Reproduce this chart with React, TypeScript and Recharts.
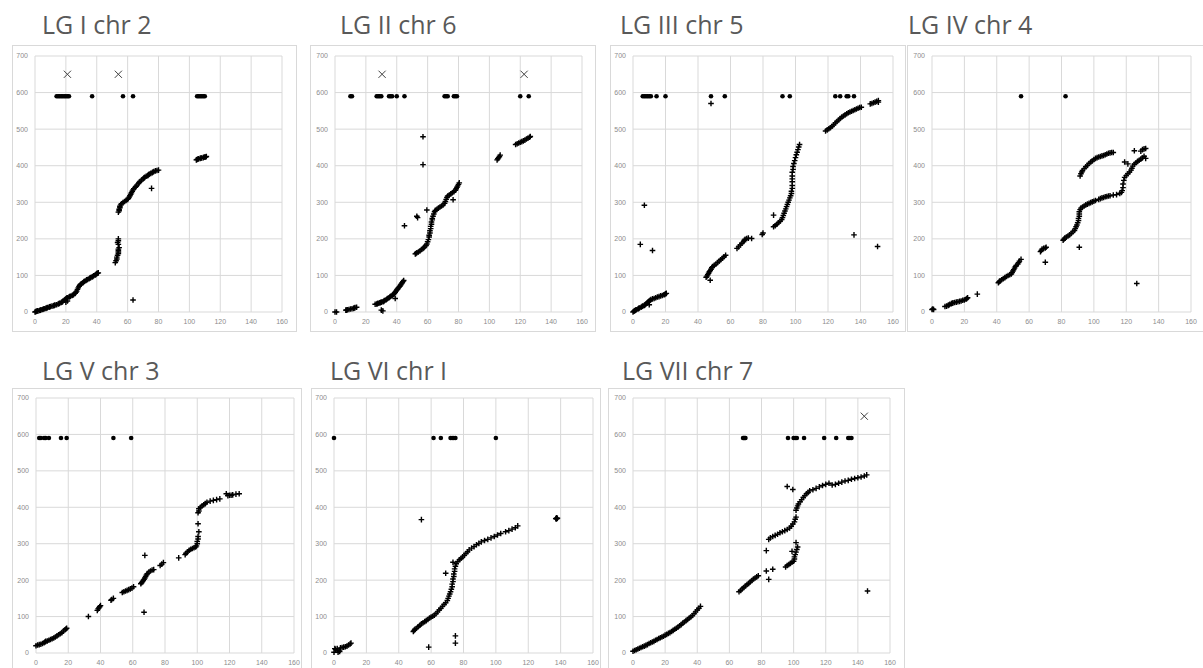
import React from "react";
import { ScatterChart, Scatter, XAxis, YAxis, CartesianGrid } from "recharts";

type P = [number, number];

// ---------- LG I chr 2 ----------
const lg1Plus: P[] = [
  [0,0],[0.5,1],[1,2],[1.5,3],[2,3],[3,4],[3.5,5],[4,6],[5,7],[5.5,8],[6,9],[7,10],[7.5,11],[8,12],[9,13],[9.5,14],[10,15],[11,16],[12,17],[12.5,18],[13,19],[14,20],[15,22],[15.5,23],[16,24],[17,26],[17.5,27],[18,29],[19,32],[19.5,34],[20,36],[20.5,38],[21,39],[21,30],[20,27],[22,41],[22.5,42],[23,43],[24,45],[24.5,46],[25,48],[26,51],[26.5,54],[27,57],[27.5,62],[28,66],[28.5,70],[29,73],[29.5,75],[30,77],[31,80],[31.5,82],[32,84],[33,86],[33.5,88],[34,89],[35,91],[35.5,93],[36,94],[37,96],[37.5,97],[38,99],[39,101],[39.5,103],[40,105],[40.5,106],[41,107],
  [52,135],[52.5,140],[53,145],[53,150],[53.5,155],[54,160],[54,164],[54,168],[54,172],[54.5,176],[54,185],[53.5,190],[54,195],[54,200],
  [54,273],[54.5,277],[54.5,281],[55,285],[55,289],[55.5,293],[56,296],[57,299],[58,302],[59,305],[60,308],[60.5,311],[61,314],[61.5,318],[62,322],[62.5,326],[63,330],[63.5,334],[64,337],[65,341],[65.5,344],[66,347],[67,351],[67.5,354],[68,357],[69,361],[70,364],[70.5,366],[71,368],[72,371],[73,373],[73.5,375],[74,377],[75,379],[76,381],[76.5,383],[77,384],[78,386],[79,387],[80,388],
  [75.5,338],[63.5,33],
  [104.5,416],[105,417],[105.5,418],[106,419],[107,420],[107.5,421],[108,421],[109,422],[109.5,423],[110,424],[110.5,424],[111,425],
];
const lg1Dots: P[] = [[14,590],[15,590],[16,590],[17,590],[18,590],[19,590],[20,590],[21,590],[22,590],[37,590],[57,590],[63.5,590],[105,590],[106,590],[107,590],[108,590],[109,590],[110,590]];
const lg1Cross: P[] = [[21,650],[54,650]];

// ---------- LG II chr 6 ----------
const lg2Plus: P[] = [
  [0,0],[1,0],[7,5],[7.5,5],[8,6],[9,7],[10,8],[11,9],[12,10],[12.5,11],[13,12],[14,13],
  [26,21],[27,22],[27.5,23],[28,24],[29,25],[29.5,26],[30,27],[31,28],[31.5,29],[32,31],[33,33],[33.5,35],[34,37],[35,39],[35.5,41],[36,43],[37,45],[37.5,47],[38,49],[38.5,51],[39,54],[39.5,57],[40,60],[40.5,63],[41,66],[41.5,68],[42,70],[42.5,74],[43,77],[43.5,80],[44,83],[44.5,86],
  [30,5],[31,3],[39,37],[45,236],
  [52,159],[52.5,160],[53,162],[54,164],[55,167],[56,171],[57,174],[57.5,176],[58,178],[59,182],[59.5,186],[60,192],[60.5,198],[61,205],[61,210],[61.5,216],[61.5,222],[62,228],[62,234],[62.5,240],[62.5,246],[63,252],[63,256],[63.5,262],[64,268],[64.5,274],[65,278],[66,281],[67,284],[68,287],[69,290],[70,293],[71,297],[71.5,302],[72,308],[72.5,313],[73,317],[74,320],[75,323],[76,326],[77,329],[78,333],[78.5,337],[79,341],[79.5,345],[80,349],[80.5,353],
  [53,262],[53.5,258],[59.5,279],[57,479],[57,403],[76.5,307],
  [105,416],[105.5,419],[106,422],[106.5,425],[107,429],
  [117,458],[118,460],[119,462],[120,464],[121,466],[122,468],[123,470],[124,473],[125,475],[126,478],[126.5,480],
];
const lg2Dots: P[] = [[10,590],[11,590],[27,590],[28,590],[29,590],[30,590],[35,590],[36,590],[37,590],[40,590],[45,590],[71,590],[72,590],[73,590],[77,590],[78,590],[79,590],[120,590],[125.5,590]];
const lg2Cross: P[] = [[30.5,650],[122.5,650]];

// ---------- LG III chr 5 ----------
const lg3Plus: P[] = [
  [0,0],[0.5,2],[1,3],[1.5,5],[2,6],[3,8],[3.5,10],[4,11],[5,13],[5.5,15],[6,16],[7,18],[7.5,20],[8,22],[8.5,24],[9,26],[9.5,28],[10,30],[10.5,32],[11,34],[12,36],[13,37],[14,39],[15,41],[16,42],[17,44],[18,45],[19,47],[19.5,48],[20,50],[20.5,51],
  [10,20],[4.5,185],[7,292],[12,168],
  [45,95],[45.5,98],[46,102],[46.5,106],[47,110],[47.5,113],[48,117],[48.5,121],[49,124],[50,128],[51,131],[52,135],[53,139],[54,143],[55,147],[56,151],[57,155],
  [47.5,87],[48,570],
  [64,174],[65,178],[66,183],[67,188],[68,192],[68.5,196],[69,199],[70,201],[71,202],[73,201],[79.5,212],[80,216],
  [86.5,233],[87.5,236],[88.5,240],[89.5,244],[90.5,248],[91.5,253],[92,258],[92.5,264],[93,270],[93.5,276],[94,282],[94.5,288],[95,294],[95.5,300],[96,306],[96.5,312],[97,318],[97.5,324],[97.5,330],[98,338],[98,346],[98,356],[98,364],[98,372],[98,382],[98.5,390],[98.5,398],[99,406],[99.5,414],[100,422],[100.5,430],[101,437],[101.5,444],[102,451],[102.5,458],
  [86.5,265],
  [118.5,495],[119.5,498],[120.5,501],[121.5,504],[122.5,508],[123.5,512],[124.5,517],[125.5,521],[126.5,525],[127.5,529],[128.5,533],[129.5,536],[130.5,539],[131.5,542],[132.5,545],[133.5,547],[134.5,549],[135.5,551],[136.5,553],[137.5,555],[138.5,557],[139.5,559],[140.5,560],
  [146,569],[147,570],[148,572],[149,574],[150,576],[151,578],[151,574],
  [136,211],[150.5,179],
];
const lg3Dots: P[] = [[6,590],[7,590],[8,590],[9,590],[10,590],[11,590],[14.5,590],[20,590],[48,590],[56.5,590],[92,590],[96.5,590],[124.5,590],[127.5,590],[131.5,590],[132.5,590],[136,590]];
const lg3Cross: P[] = [];

// ---------- LG IV chr 4 ----------
const lg4Plus: P[] = [
  [0,7],[0.5,8],[1,7],
  [8,15],[9,16],[10,18],[10.5,19],[11,21],[12,23],[12.5,24],[13,25],[14,26],[15,27],[16,28],[17,29],[18,30],[19,32],[20,33],[21,35],[21.5,37],[22,39],[28,49],
  [41,80],[41.5,83],[42,85],[43,88],[44,91],[45,94],[46,97],[47,100],[48,102],[49,104],[49.5,108],[50,112],[50.5,116],[51,120],[51.5,124],[52,127],[53,131],[53.5,135],[54,139],[55,144],
  [67,165],[67.5,168],[68,172],[69,174],[70,175],[70.5,177],[70,136],
  [81,196],[81.5,199],[82,202],[83,205],[84,208],[85,211],[86,215],[87,219],[88,223],[88.5,228],[89,233],[89.5,238],[90,244],[90.5,250],[90.5,256],[91,262],[91,268],[91,274],[91.5,280],[92,284],[93,287],[94,290],[95,293],[96,295],[97,297],[98,299],[99,301],[100,303],[101,305],[103,308],[104,310],[105,312],[106,313],[107,315],[108,316],[109,317],[110,318],[112,320],[114,321],[116,324],[117,327],[117.5,332],[118,340],[118,350],[118.5,360],[119,368],[120,373],[121,378],[122,383],[123,388],[123.5,393],[124,399],[125,404],[126,408],[127,412],[128,415],[129,418],[130,421],[131,426],[129,440],[130,444],[131,446],[132,447],
  [91.5,372],[92,378],[92.5,383],[93,387],[94,392],[95,397],[96,401],[97,406],[98,410],[99,413],[100,417],[101,420],[102,422],[103,424],[104,425],[105,427],[106,428],[107,430],[108,432],[109,434],[110,435],[111,436],[112,436],
  [91,177],[126.5,78],[125,441],[132,420],[119,410],[121,405],
];
const lg4Dots: P[] = [[55,590],[82.5,590]];
const lg4Cross: P[] = [];

// ---------- LG V chr 3 ----------
const lg5Plus: P[] = [
  [0,20],[1,22],[2,23],[3,24],[4,26],[5,28],[5.5,30],[6,32],[7,33],[8,35],[9,37],[10,39],[11,41],[12,44],[13,47],[14,50],[15,53],[16,56],[17,60],[18,64],[18.5,66],[19,68],
  [32.5,100],[38,117],[38.5,121],[39,124],[39.5,127],[40,130],
  [46.5,145],[47,147],[48,150],
  [53.5,166],[54.5,168],[55.5,170],[56.5,172],[57.5,174],[58.5,176],[59.5,178],[60.5,182],
  [65,190],[65.5,193],[66,196],[66.5,199],[67,202],[67.5,206],[68,210],[68.5,214],[69,218],[70,222],[71,225],[72,228],[73,229],
  [67.5,268],[67,112],
  [77,240],[78,244],[79,248],[88.5,261],
  [92.5,270],[93,274],[94,278],[95,282],[96,285],[97,287],[98,289],[99,291],[99.5,294],[100,300],[100,306],[100.5,313],[100.5,320],[101,333],[100.5,355],
  [100.5,385],[101,390],[101,396],[102,400],[103,404],[104,407],[105,410],[106,414],[108,417],[110,419],[112,421],[114,423],[118,437],[119,432],[120,433],[121,433],[122,434],[124,436],[126,437],
];
const lg5Dots: P[] = [[2,590],[3,590],[5,590],[6,590],[8,590],[15.5,590],[19,590],[48,590],[59,590]];
const lg5Cross: P[] = [];

// ---------- LG VI chr I ----------
const lg6Plus: P[] = [
  [0,2],[0.5,12],[1,10],[2,12],[2.5,2],[3,6],[3.5,4],[4,14],[5,15],[6,16],[7,17],[8,19],[9,22],[10,25],[10.5,27],
  [49,59],[49.5,62],[50,65],[51,68],[52,72],[53,76],[54,80],[55,83],[56,86],[57,89],[58,92],[59,96],[60,99],[61,101],[62,104],[63,108],[64,113],[65,118],[66,123],[67,128],[68,133],[69,138],[70,144],[70.5,150],[71,156],[71.5,162],[72,168],[72.5,175],[73,182],[73,189],[73.5,196],[73.5,203],[74,210],[74,217],[74.5,224],[74.5,231],[75,238],[75.5,245],[76.5,251],[77.5,256],[78.5,260],[79.5,264],[80.5,268],[81.5,273],[82.5,278],[83.5,283],[85,288],[86.5,292],[88,297],[89.5,301],[91,305],[93,309],[95,312],[97,316],[99,320],[101,324],[103,328],[106,333],[108,336],[110,340],[112,344],[113.5,349],
  [54,366],[69,219],[73.5,249],[58.5,16],[75,47],[75,27],
  [137,369],[137.5,371],[138,370],[137.5,368],
];
const lg6Dots: P[] = [[0,590],[61.5,590],[66,590],[72,590],[73,590],[74,590],[75,590],[100,590]];
const lg6Cross: P[] = [];

// ---------- LG VII chr 7 ----------
const lg7Plus: P[] = [
  [0,5],[1,7],[2,9],[3,11],[4,13],[5,15],[6,17],[7,19],[8,21],[9,23],[10,26],[11,28],[12,30],[13,32],[14,35],[15,37],[16,40],[17,42],[18,44],[19,46],[20,49],[21,51],[22,54],[23,56],[24,59],[25,62],[26,65],[27,68],[28,71],[29,75],[30,78],[31,82],[32,85],[33,89],[34,92],[35,96],[36,99],[37,103],[38,108],[39,113],[40,118],[41,123],[42,128],
  [66,168],[67,172],[68,176],[69,180],[70,184],[71,188],[72,191],[73,195],[74,199],[75,203],[76,206],[77,209],[78,212],
  [84.5,312],[85.5,316],[87,320],[88.5,323],[90,326],[91.5,330],[93,333],[94.5,336],[96,339],[97.5,343],[98.5,348],[99.5,354],[100.5,360],[101,367],[101.5,373],
  [101.5,392],[102,398],[102.5,404],[103,409],[104,415],[105,421],[106,427],[107,432],[108,437],[109,441],[110,445],[112,448],[114,452],[116,456],[118,460],[120,463],[122,466],[124,461],[126,463],[128,466],[130,469],[132,472],[134,474],[136,477],[138,479],[140,481],[142,483],[144,486],[145.5,489],
  [95,236],[96,240],[97,243],[98,246],[99,249],[100,252],[100.5,258],[100.5,264],[101,270],[101.5,277],[102,284],[102.5,291],[101.5,303],
  [83,281],[83,225],[87,230],[84.5,202],[96,457],[99.5,449],[99,279],[146,170],
];
const lg7Dots: P[] = [[68.5,590],[69,590],[69.5,590],[70,590],[96.5,590],[100,590],[101,590],[102,590],[106.5,590],[119,590],[126.5,590],[134,590],[135,590],[136,590]];
const lg7Cross: P[] = [[144,650]];

const xTicks = [0, 20, 40, 60, 80, 100, 120, 140, 160];
const yTicks = [0, 100, 200, 300, 400, 500, 600, 700];

const toObj = (a: P[]) => a.map(([x, y]) => ({ x, y }));

const PlusShape = (p: any) => {
  const { cx, cy } = p;
  if (cx == null || cy == null) return <g />;
  const s = 2.8;
  return <path d={`M${cx - s},${cy}H${cx + s}M${cx},${cy - s}V${cy + s}`} stroke="#000" strokeWidth={1.4} fill="none" />;
};
const DotShape = (p: any) => {
  const { cx, cy } = p;
  if (cx == null || cy == null) return <g />;
  return <circle cx={cx} cy={cy} r={2.3} fill="#000" />;
};
const CrossShape = (p: any) => {
  const { cx, cy } = p;
  if (cx == null || cy == null) return <g />;
  const s = 3.6;
  return <path d={`M${cx - s},${cy - s}L${cx + s},${cy + s}M${cx - s},${cy + s}L${cx + s},${cy - s}`} stroke="#404040" strokeWidth={1} fill="none" />;
};

type Panel = {
  title: string; tx: number; ty: number;
  fx: number; fy: number; fw: number; fh: number;
  x0: number; x1: number; yT: number; yB: number;
  plus: P[]; dots: P[]; cross: P[];
};

const panels: Panel[] = [
  { title: "LG I chr 2", tx: 42, ty: 12, fx: 12, fy: 45, fw: 285, fh: 287, x0: 35, x1: 282, yT: 56, yB: 312, plus: lg1Plus, dots: lg1Dots, cross: lg1Cross },
  { title: "LG II chr 6", tx: 340, ty: 12, fx: 310, fy: 45, fw: 286, fh: 287, x0: 335, x1: 582, yT: 56, yB: 312, plus: lg2Plus, dots: lg2Dots, cross: lg2Cross },
  { title: "LG III chr 5", tx: 620, ty: 12, fx: 610, fy: 45, fw: 296, fh: 287, x0: 633, x1: 893, yT: 56, yB: 312, plus: lg3Plus, dots: lg3Dots, cross: lg3Cross },
  { title: "LG IV chr 4", tx: 908, ty: 12, fx: 907, fy: 45, fw: 310, fh: 287, x0: 932, x1: 1191, yT: 56, yB: 312, plus: lg4Plus, dots: lg4Dots, cross: lg4Cross },
  { title: "LG V chr 3", tx: 42, ty: 358, fx: 12, fy: 388, fw: 290, fh: 300, x0: 36, x1: 294, yT: 398, yB: 653, plus: lg5Plus, dots: lg5Dots, cross: lg5Cross },
  { title: "LG VI chr I", tx: 330, ty: 358, fx: 311, fy: 388, fw: 290, fh: 300, x0: 334, x1: 593, yT: 398, yB: 653, plus: lg6Plus, dots: lg6Dots, cross: lg6Cross },
  { title: "LG VII chr 7", tx: 622, ty: 358, fx: 608, fy: 388, fw: 297, fh: 300, x0: 633, x1: 890, yT: 398, yB: 653, plus: lg7Plus, dots: lg7Dots, cross: lg7Cross },
];

const YW = 30, MT = 8, MR = 12, XH = 22;
const tickStyle = { fontSize: 7, fill: "#8c8c8c", fontFamily: "Liberation Sans, Arial, sans-serif" };

function PanelChart({ p }: { p: Panel }) {
  const w = YW + (p.x1 - p.x0) + MR;
  const h = MT + (p.yB - p.yT) + XH;
  return (
    <>
      <div style={{ position: "absolute", left: p.fx, top: p.fy, width: p.fw, height: p.fh, border: "1px solid #d9d9d9", boxSizing: "border-box" }} />
      <div style={{ position: "absolute", left: p.tx, top: p.ty, fontFamily: "'Open Sans', sans-serif", fontSize: 25, lineHeight: "25px", color: "#595959", whiteSpace: "nowrap" }}>{p.title}</div>
      <div style={{ position: "absolute", left: p.x0 - YW, top: p.yT - MT }}>
        <ScatterChart width={w} height={h} margin={{ top: MT, right: MR, bottom: 0, left: 0 }}>
          <CartesianGrid stroke="#d9d9d9" strokeWidth={1} />
          <XAxis type="number" dataKey="x" domain={[0, 160]} ticks={xTicks} interval={0} axisLine={false} tickLine={false} tickSize={5} tickMargin={2} height={XH} tick={tickStyle} />
          <YAxis type="number" dataKey="y" domain={[0, 700]} ticks={yTicks} interval={0} axisLine={false} tickLine={false} tickSize={5} tickMargin={2} width={YW} tick={tickStyle} />
          <Scatter data={toObj(p.plus)} shape={PlusShape} isAnimationActive={false} />
          <Scatter data={toObj(p.dots)} shape={DotShape} isAnimationActive={false} />
          <Scatter data={toObj(p.cross)} shape={CrossShape} isAnimationActive={false} />
        </ScatterChart>
      </div>
    </>
  );
}

export default function App() {
  return (
    <div style={{ position: "absolute", left: 0, top: 0, width: 1203, height: 668, overflow: "hidden", background: "#fff" }}>
      {panels.map((p) => <PanelChart key={p.title} p={p} />)}
    </div>
  );
}
